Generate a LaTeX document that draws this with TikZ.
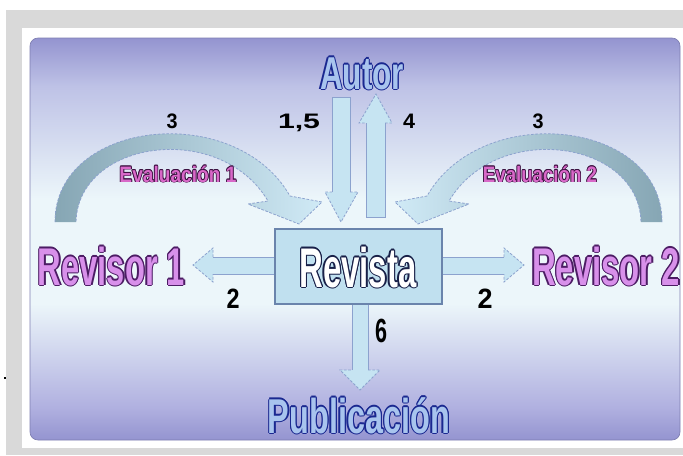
\documentclass[tikz,border=0pt]{standalone}
\usepackage{fontspec}
\setmainfont{Liberation Sans}
\usepackage{graphicx}
\definecolor{frame}{HTML}{D9D9D9}
\definecolor{pA}{RGB}{148,148,208}
\definecolor{pB}{RGB}{176,176,224}
\definecolor{pC}{RGB}{236,246,250}
\definecolor{pD}{RGB}{190,194,230}
\definecolor{arrfillc}{HTML}{C6E4F2}
\definecolor{arrlinec}{HTML}{8CA2CE}
\definecolor{boxfill}{HTML}{C0E0EF}
\definecolor{boxline}{HTML}{6A84AC}
\definecolor{curvedark}{HTML}{86A6B4}
\definecolor{curvelight}{HTML}{D0EAF6}
\definecolor{blueFill}{HTML}{A8C4EE}
\definecolor{blueStroke}{HTML}{1A2890}
\definecolor{revFill}{HTML}{D890EA}
\definecolor{revStroke}{HTML}{4C1C64}
\definecolor{evFill}{HTML}{D868C8}
\definecolor{evStroke}{HTML}{3C1040}
\definecolor{navy}{HTML}{182048}
\pgfdeclareverticalshading{panelsh}{100bp}{color(0bp)=(pA); color(25bp)=(pA); color(29bp)=(pB); color(42bp)=(pC); color(55bp)=(pC); color(69bp)=(pD); color(75bp)=(pA); color(100bp)=(pA)}
\newcommand{\capbox}[1]{\raisebox{0pt}[0.716em][0pt]{#1}}
\newdimen\odr \newdimen\odd
% outlined text in one box: #1 fill, #2 stroke, #3 W, #4 H, #5 text, #6 radius
\newcommand{\otxt}[6]{%
  \odr=#6\relax \odd=0.7\odr
  \def\ob{\resizebox{#3}{#4}{\capbox{#5}}}%
  {\color{#2}%
   \makebox[0pt][l]{\hspace*{\odr}\ob}%
   \makebox[0pt][l]{\hspace*{-\odr}\ob}%
   \makebox[0pt][l]{\raisebox{\odr}{\ob}}%
   \makebox[0pt][l]{\raisebox{-\odr}{\ob}}%
   \makebox[0pt][l]{\hspace*{\odd}\raisebox{\odd}{\ob}}%
   \makebox[0pt][l]{\hspace*{-\odd}\raisebox{\odd}{\ob}}%
   \makebox[0pt][l]{\hspace*{\odd}\raisebox{-\odd}{\ob}}%
   \makebox[0pt][l]{\hspace*{-\odd}\raisebox{-\odd}{\ob}}}%
  {\color{#1}\ob}}
\tikzset{
  lbl/.style={inner sep=0pt, anchor=base, font=\bfseries},
  numlbl/.style={inner sep=0pt, anchor=base, font=\bfseries, text=black},
  arrfill/.style={fill=arrfillc},
  arrline/.style={draw=arrlinec, line width=0.6pt},
  arrdash/.style={draw=arrlinec, line width=0.6pt, dash pattern=on 2pt off 1.2pt},
}
\begin{document}
\begin{tikzpicture}[x=0.75pt,y=-0.75pt]
\useasboundingbox (0,0) rectangle (683,455);
% frame
\fill[frame] (6,10) rectangle (683,455);
\fill[white] (22,28) rectangle (683,448);
\fill[black] (4,377) rectangle (6,379);
% panel
\shade[shading=panelsh, rounded corners=6pt] (30,38) rectangle (680,440);
\draw[draw=pA!85!black, line width=0.5pt, rounded corners=6pt] (30,38) rectangle (680,440);
% curved arrow left (Evaluacion 1)
\coordinate (c1tip) at (299,224);
\shade[left color=curvedark, right color=curvelight]
  (55,222) .. controls (55,120) and (235,100) .. (290,196) -- (322,202) -- (c1tip) -- (248,204) -- (268,201)
  .. controls (220,120) and (78,140) .. (76,222) -- cycle;
\draw[arrdash]
  (55,222) .. controls (55,120) and (235,100) .. (290,196) -- (322,202) -- (c1tip) -- (248,204) -- (268,201)
  .. controls (220,120) and (78,140) .. (76,222);
% curved arrow right (Evaluacion 2)
\coordinate (c2tip) at (418,224);
\shade[left color=curvelight, right color=curvedark]
  (662,222) .. controls (662,120) and (482,100) .. (427,196) -- (395,202) -- (c2tip) -- (469,204) -- (449,201)
  .. controls (497,120) and (639,140) .. (641,222) -- cycle;
\draw[arrdash]
  (662,222) .. controls (662,120) and (482,100) .. (427,196) -- (395,202) -- (c2tip) -- (469,204) -- (449,201)
  .. controls (497,120) and (639,140) .. (641,222);
% down arrow 1,5 (Autor -> Revista)
\coordinate (d15tip) at (341,222);
\fill[arrfill] (332,97) -- (350,97) -- (350,192) -- (358,192) -- (d15tip) -- (325,192) -- (332,192) -- cycle;
\draw[arrline] (332,192) -- (332,97) -- (350,97) -- (350,192);
\draw[arrdash] (350,192) -- (358,192) -- (d15tip) -- (325,192) -- (332,192);
% up arrow 4 (Revista -> Autor)
\coordinate (u4tip) at (376,94);
\fill[arrfill] (366,217) -- (385,217) -- (385,123) -- (392,123) -- (u4tip) -- (359,123) -- (366,123) -- cycle;
\draw[arrline] (366,123) -- (366,217) -- (385,217) -- (385,123);
\draw[arrdash] (385,123) -- (392,123) -- (u4tip) -- (359,123) -- (366,123);
% left arrow 2 (Revista -> Revisor 1)
\coordinate (l2tip) at (193,265);
\fill[arrfill] (276,257) -- (213,257) -- (213,248) -- (l2tip) -- (213,282) -- (213,274) -- (276,274) -- cycle;
\draw[arrline] (276,257) -- (213,257);
\draw[arrline] (276,274) -- (213,274);
\draw[arrdash] (213,257) -- (213,248) -- (l2tip) -- (213,282) -- (213,274);
% right arrow 2 (Revista -> Revisor 2)
\coordinate (r2tip) at (524,265);
\fill[arrfill] (441,257) -- (504,257) -- (504,248) -- (r2tip) -- (504,282) -- (504,274) -- (441,274) -- cycle;
\draw[arrline] (441,257) -- (504,257);
\draw[arrline] (441,274) -- (504,274);
\draw[arrdash] (504,257) -- (504,248) -- (r2tip) -- (504,282) -- (504,274);
% down arrow 6 (Revista -> Publicacion)
\coordinate (d6tip) at (360,390);
\fill[arrfill] (352,303) -- (368,303) -- (368,370) -- (380,370) -- (d6tip) -- (340,370) -- (352,370) -- cycle;
\draw[arrline] (352,370) -- (352,303);
\draw[arrline] (368,303) -- (368,370);
\draw[arrdash] (368,370) -- (380,370) -- (d6tip) -- (340,370) -- (352,370);
% Revista box
\node[draw=boxline, fill=boxfill, line width=0.8pt, inner sep=0pt,
      minimum width=125.25pt, minimum height=56.25pt] (revista) at (358.5,266.5) {};
% labels
\node[lbl] (revistatxt) at (358,287) {\otxt{white}{navy}{87.75pt}{30pt}{Revista}{1pt}};
\node[lbl] (autor) at (362,89) {\otxt{blueFill}{blueStroke}{63pt}{24.75pt}{Autor}{0.9pt}};
\node[lbl] (publicacion) at (359,433) {\otxt{blueFill}{blueStroke}{136.5pt}{26.25pt}{Publicación}{1pt}};
\node[lbl] (revisor1) at (111.5,285) {\otxt{revFill}{revStroke}{110.25pt}{28.5pt}{Revisor 1}{1pt}};
\node[lbl] (revisor2) at (606,285) {\otxt{revFill}{revStroke}{111pt}{28.5pt}{Revisor 2}{1pt}};
\node[lbl] (eval1) at (178,182) {\otxt{evFill}{evStroke}{87.75pt}{12pt}{Evaluación 1}{0.6pt}};
\node[lbl] (eval2) at (540,182) {\otxt{evFill}{evStroke}{85.5pt}{12pt}{Evaluación 2}{0.6pt}};
% numbers
\node[numlbl] (n3a) at (172,128) {\resizebox{8.25pt}{11.25pt}{\capbox{3}}};
\node[numlbl] (n15) at (299,128) {\resizebox{31.5pt}{11.25pt}{\capbox{1,5}}};
\node[numlbl] (n4) at (409,128) {\resizebox{9pt}{11.25pt}{\capbox{4}}};
\node[numlbl] (n3b) at (538,128) {\resizebox{8.25pt}{11.25pt}{\capbox{3}}};
\node[numlbl] (n2a) at (233,308) {\resizebox{9.75pt}{15pt}{\capbox{2}}};
\node[numlbl] (n2b) at (485,308) {\resizebox{11.25pt}{15pt}{\capbox{2}}};
\node[numlbl] (n6) at (381,342) {\resizebox{9pt}{18pt}{\capbox{6}}};
\end{tikzpicture}
\end{document}
